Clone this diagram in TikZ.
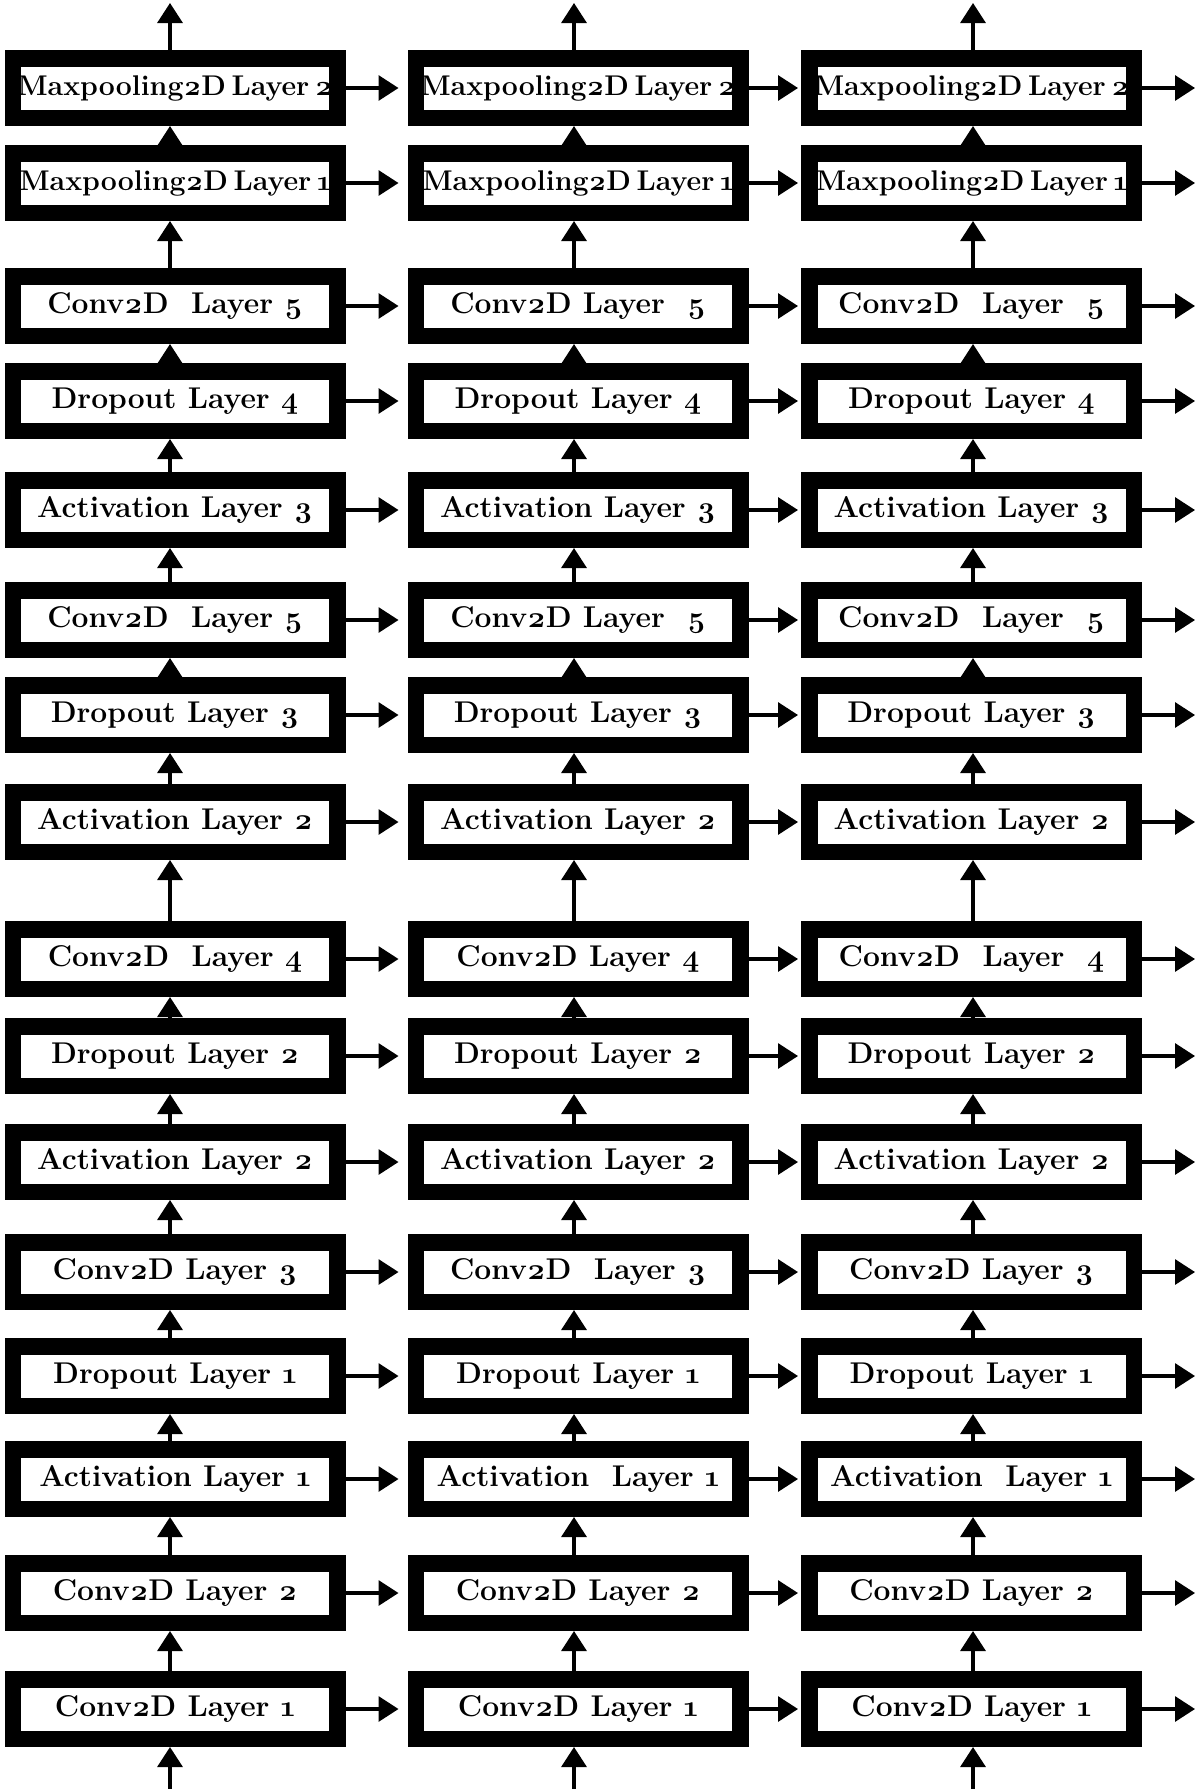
\documentclass[tikz,border=0pt]{standalone}
\usepackage{fontspec}
\setmainfont{Latin Modern Roman}[Numbers=OldStyle]
\usetikzlibrary{arrows.meta}
\newcommand\lbl[1]{\makebox[0pt][c]{#1}}
\newcommand\mplbl[1]{{\fontsize{28.5}{30}\selectfont\spaceskip=0.2em plus 0.1em #1}}
\tikzset{
  layerbox/.style={draw=black, fill=white, line width=16.5pt, minimum width=324.5pt,
    minimum height=59.5pt, inner sep=0pt, font=\fontsize{30}{32}\selectfont\bfseries},
  arr/.style={line width=3.2pt, -{Triangle[length=20pt,width=25pt]}}
}
\begin{document}
\begin{tikzpicture}[x=1pt,y=-1pt]
\useasboundingbox[fill=white] (0,0) rectangle (1200,1789);
\def\labelsA{1/{\mplbl{Maxpooling2D Layer 2}},2/{\mplbl{Maxpooling2D Layer 1}},3/{Conv2D\ \ Layer 5},4/{Dropout Layer 4},5/{Activation Layer 3},6/{Conv2D\ \ Layer 5},7/{Dropout Layer 3},8/{Activation Layer 2},9/{Conv2D\ \ Layer 4},10/{Dropout Layer 2},11/{Activation Layer 2},12/{Conv2D Layer 3},13/{Dropout Layer 1},14/{Activation Layer 1},15/{Conv2D Layer 2},16/{Conv2D Layer 1}}
\def\labelsB{1/{\mplbl{Maxpooling2D Layer 2}},2/{\mplbl{Maxpooling2D Layer 1}},3/{Conv2D Layer\ \ 5},4/{Dropout Layer 4},5/{Activation Layer 3},6/{Conv2D Layer\ \ 5},7/{Dropout Layer 3},8/{Activation Layer 2},9/{Conv2D Layer 4},10/{Dropout Layer 2},11/{Activation Layer 2},12/{Conv2D\ \ Layer 3},13/{Dropout Layer 1},14/{Activation\ \ Layer 1},15/{Conv2D Layer 2},16/{Conv2D Layer 1}}
\def\labelsC{1/{\mplbl{Maxpooling2D Layer 2}},2/{\mplbl{Maxpooling2D Layer 1}},3/{Conv2D\ \ Layer\ \ 5},4/{Dropout Layer 4},5/{Activation Layer 3},6/{Conv2D\ \ Layer\ \ 5},7/{Dropout Layer 3},8/{Activation Layer 2},9/{Conv2D\ \ Layer\ \ 4},10/{Dropout Layer 2},11/{Activation Layer 2},12/{Conv2D Layer 3},13/{Dropout Layer 1},14/{Activation\ \ Layer 1},15/{Conv2D Layer 2},16/{Conv2D Layer 1}}
\def\rowy{{0,88,183,306,401,510,620,715,822,959,1056,1162,1272,1376,1479,1593,1709}}
\foreach \r/\t in \labelsA {
  \pgfmathsetmacro\yy{\rowy[\r]}
  \node[layerbox] (n1-\r) at (175,\yy) {\lbl{\t}};
}
\foreach \r/\t in \labelsB {
  \pgfmathsetmacro\yy{\rowy[\r]}
  \node[layerbox] (n2-\r) at (578,\yy) {\lbl{\t}};
}
\foreach \r/\t in \labelsC {
  \pgfmathsetmacro\yy{\rowy[\r]}
  \node[layerbox] (n3-\r) at (971.5,\yy) {\lbl{\t}};
}
% vertical arrows
\foreach \c/\sh in {1/-5,2/-4,3/1.5} {
  \foreach \lo/\hi in {2/1,3/2,4/3,5/4,6/5,7/6,8/7,9/8,10/9,11/10,12/11,13/12,14/13,15/14,16/15} {
    \draw[arr] ([xshift=\sh pt]n\c-\lo.north) -- ([xshift=\sh pt]n\c-\hi.south);
  }
  \path ([xshift=\sh pt]n\c-1.north) ++(0,-47) coordinate (top\c);
  \path ([xshift=\sh pt]n\c-16.south) ++(0,43) coordinate (bot\c);
  \draw[arr] ([xshift=\sh pt]n\c-1.north) -- (top\c);
  \draw[arr] (bot\c) -- ([xshift=\sh pt]n\c-16.south);
}
% horizontal arrows
\foreach \r in {1,...,16} {
  \draw[arr, shorten >=9pt] (n1-\r.east) -- (n2-\r.west);
  \draw[arr, shorten >=3pt] (n2-\r.east) -- (n3-\r.west);
  \path (n3-\r.east) ++(53,0) coordinate (out\r);
  \draw[arr] (n3-\r.east) -- (out\r);
}
\end{tikzpicture}
\end{document}
